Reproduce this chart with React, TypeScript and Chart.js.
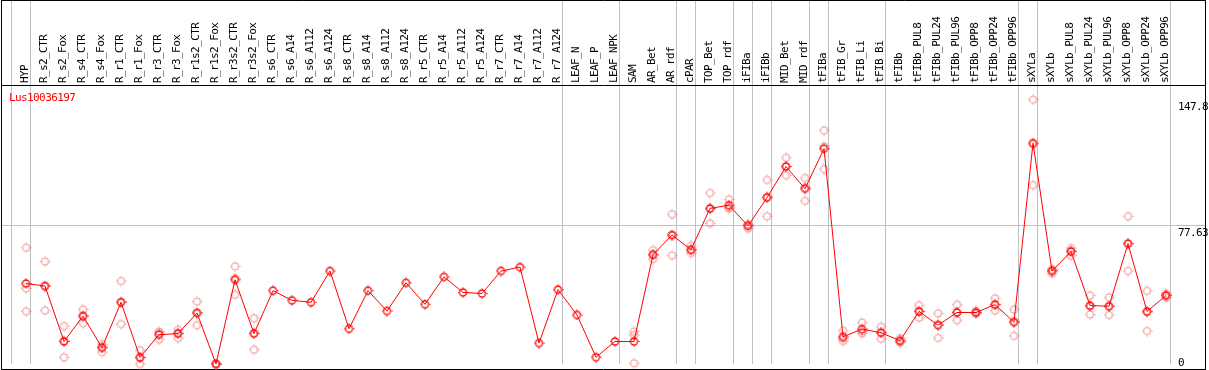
import React, { useEffect, useRef } from 'react';
import { Chart, registerables } from 'chart.js';

Chart.register(...registerables);

const categories = [
  'HYP', 'R_s2_CTR', 'R_s2_Fox', 'R_s4_CTR', 'R_s4_Fox', 'R_r1_CTR', 'R_r1_Fox', 'R_r3_CTR', 'R_r3_Fox',
  'R_r1s2_CTR', 'R_r1s2_Fox', 'R_r3s2_CTR', 'R_r3s2_Fox', 'R_s6_CTR', 'R_s6_A14', 'R_s6_A112', 'R_s6_A124',
  'R_s8_CTR', 'R_s8_A14', 'R_s8_A112', 'R_s8_A124', 'R_r5_CTR', 'R_r5_A14', 'R_r5_A112', 'R_r5_A124',
  'R_r7_CTR', 'R_r7_A14', 'R_r7_A112', 'R_r7_A124', 'LEAF_N', 'LEAF_P', 'LEAF_NPK', 'SAM', 'AR_Bet', 'AR_rdf',
  'cPAR', 'TOP_Bet', 'TOP_rdf', 'iFIBa', 'iFIBb', 'MID_Bet', 'MID_rdf', 'tFIBa', 'tFIB_Gr', 'tFIB_Li', 'tFIB_Bi',
  'tFIBb', 'tFIBb_PUL8', 'tFIBb_PUL24', 'tFIBb_PUL96', 'tFIBb_OPP8', 'tFIBb_OPP24', 'tFIBb_OPP96',
  'sXYLa', 'sXYLb', 'sXYLb_PUL8', 'sXYLb_PUL24', 'sXYLb_PUL96', 'sXYLb_OPP8', 'sXYLb_OPP24', 'sXYLb_OPP96',
];

const meanValues = [
  45.0, 43.6, 12.6, 26.8, 9.1, 34.5, 3.7, 16.4, 17.0,
  28.5, 0, 47.1, 17.0, 41.0, 35.6, 34.5, 52.0,
  19.7, 41.0, 29.6, 45.4, 33.4, 48.7, 40.0, 39.4,
  52.0, 54.2, 11.7, 41.6, 27.4, 3.8, 12.6, 12.6, 61.1, 72.1,
  63.9, 87.0, 88.8, 77.2, 93.0, 110.4, 98.0, 120.4, 15.2, 19.5, 17.5,
  13.0, 29.4, 21.7, 28.8, 28.8, 33.2, 23.4,
  123.5, 52.0, 62.9, 32.7, 32.3, 67.3, 29.4, 38.3,
];

const repHigh = [
  65.0, 57.3, 21.2, 30.5, 11.1, 46.4, 7.7, 18.2, 19.2,
  34.9, 0, 54.6, 25.6, null, null, null, null,
  null, null, null, null, null, null, null, null,
  null, null, null, null, null, null, null, 18.1, 63.7, 83.7,
  66.1, 95.6, 92.0, 77.8, 102.9, 115.3, 104.0, 130.6, 18.6, 23.2, 20.8,
  14.4, 32.8, 28.3, 33.2, 29.8, 36.7, 30.5,
  147.8, 50.7, 64.8, 38.3, 37.2, 82.6, 40.9, 39.2,
];

const repLow = [
  29.4, 29.9, 3.7, 22.8, 6.7, 22.3, 0, 13.7, 14.4,
  21.7, 0, 38.7, 8.0, null, null, null, null,
  null, null, null, null, null, null, null, null,
  null, null, null, null, null, null, null, 0.4, 58.7, 60.6,
  62.0, 78.6, 86.9, 75.7, 82.6, 105.5, 91.2, 108.9, 12.8, 17.1, 14.1,
  12.0, 25.9, 14.6, 24.5, 28.0, 29.9, 15.7,
  100.0, 53.0, 60.6, 27.7, 27.4, 52.0, 18.4, 37.1,
];

const repMid = [
  42.3, 43.6, 12.9, 27.1, 9.5, 34.8, 3.4, 17.3, 17.4,
  28.9, 0, 48.0, 17.4, null, null, null, null,
  null, null, null, null, null, null, null, null,
  null, null, null, null, null, null, null, 16.2, 61.0, 72.0,
  63.6, 86.8, 87.5, 78.0, 93.5, 110.4, 98.8, 121.7, 14.2, 18.2, 17.6,
  12.6, 29.5, 22.2, 28.7, 28.6, 33.0, 24.0,
  122.6, 52.3, 63.3, 32.1, 32.3, 67.3, 28.9, 38.6,
];

const separatorAfter = [-1, 0, 28, 31, 34, 35, 37, 38, 39, 41, 42, 45, 52, 53, 60];
const rightTicks = [0, 77.63, 147.8];
const rightTickLabels = ['0', '77.63', '147.8'];
const geneId = 'Lus10036197';

const MONO = 'DejaVu Sans Mono';
const LETTER_SPACING = '-0.6px';

function makeMarker(color: string, lw: number): HTMLCanvasElement {
  const c = document.createElement('canvas');
  c.width = 11;
  c.height = 11;
  const g = c.getContext('2d')!;
  g.strokeStyle = color;
  g.lineWidth = lw;
  g.beginPath();
  g.arc(5.5, 5.5, 3.5, 0, Math.PI * 2);
  g.stroke();
  g.lineWidth = 1;
  g.beginPath();
  g.moveTo(5.5, 0.3); g.lineTo(5.5, 1.4);
  g.moveTo(5.5, 9.6); g.lineTo(5.5, 10.7);
  g.moveTo(0.3, 5.5); g.lineTo(1.4, 5.5);
  g.moveTo(9.6, 5.5); g.lineTo(10.7, 5.5);
  g.stroke();
  return c;
}

const framePlugin = {
  id: 'frame',
  beforeDraw(chart: any) {
    const ctx = chart.ctx;
    ctx.save();
    ctx.fillStyle = '#ffffff';
    ctx.fillRect(0, 0, chart.width, chart.height);
    ctx.restore();
    try { ctx.letterSpacing = LETTER_SPACING; } catch (e) { /* ignore */ }
  },
  beforeDatasetsDraw(chart: any) {
    const ctx = chart.ctx;
    const xs = chart.scales.x;
    const ys = chart.scales.y;
    const bottom = chart.chartArea.bottom;
    ctx.save();
    ctx.strokeStyle = '#c0c0c0';
    ctx.lineWidth = 1;
    ctx.beginPath();
    separatorAfter.forEach((i) => {
      const px = Math.floor(xs.getPixelForValue(i) + 4.5) + 0.5;
      ctx.moveTo(px, 0);
      ctx.lineTo(px, bottom);
    });
    const gy = Math.round(ys.getPixelForValue(77.63)) + 0.5;
    ctx.moveTo(1, gy);
    ctx.lineTo(1205, gy);
    ctx.stroke();

    ctx.strokeStyle = '#000000';
    ctx.beginPath();
    ctx.moveTo(1, 0.5); ctx.lineTo(1206, 0.5);
    ctx.moveTo(1, 85.5); ctx.lineTo(1206, 85.5);
    ctx.moveTo(1, 369.5); ctx.lineTo(1206, 369.5);
    ctx.moveTo(1.5, 0); ctx.lineTo(1.5, 370);
    ctx.moveTo(1205.5, 0); ctx.lineTo(1205.5, 370);
    ctx.stroke();
    ctx.restore();
  },
  afterDraw(chart: any) {
    const ctx = chart.ctx;
    const ys = chart.scales.y;
    ctx.save();
    try { ctx.letterSpacing = LETTER_SPACING; } catch (e) { /* ignore */ }
    ctx.font = `11px "${MONO}"`;
    ctx.textAlign = 'left';
    ctx.fillStyle = '#ff0000';
    ctx.textBaseline = 'alphabetic';
    ctx.fillText(geneId, 9, 100.5);
    ctx.fillStyle = '#000000';
    ctx.textBaseline = 'top';
    rightTicks.forEach((v, k) => {
      let y = ys.getPixelForValue(v) + 2;
      if (y > 358) y = 358;
      ctx.fillText(rightTickLabels[k], 1178, y);
    });
    ctx.restore();
  },
};

export default function App() {
  const ref = useRef<HTMLCanvasElement | null>(null);

  useEffect(() => {
    if (!ref.current) return;
    const meanMarker = makeMarker('#ff0000', 1.3);
    const repMarker = makeMarker('rgba(238,130,130,0.85)', 1.1);
    const repDataset = (data: (number | null)[], label: string) => ({
      label,
      data,
      showLine: false,
      pointStyle: repMarker,
      pointRadius: 5,
      borderColor: 'rgba(238,130,130,0.85)',
      backgroundColor: 'rgba(0,0,0,0)',
      clip: false,
      spanGaps: false,
    });
    const chart = new Chart(ref.current, {
      type: 'line',
      data: {
        labels: categories,
        datasets: [
          {
            label: 'mean',
            data: meanValues,
            borderColor: '#ff0000',
            borderWidth: 1,
            backgroundColor: 'rgba(0,0,0,0)',
            pointStyle: meanMarker,
            pointRadius: 5,
            tension: 0,
            clip: false,
          } as any,
          repDataset(repHigh, 'rep1') as any,
          repDataset(repMid, 'rep2') as any,
          repDataset(repLow, 'rep3') as any,
        ],
      },
      options: {
        responsive: false,
        animation: false,
        events: [],
        layout: { padding: { left: 26, right: 43, top: 0, bottom: 1 } },
        plugins: { legend: { display: false }, tooltip: { enabled: false } },
        scales: {
          x: {
            position: 'top',
            offset: false,
            grid: { display: false, drawTicks: false },
            border: { display: false },
            ticks: {
              autoSkip: false,
              minRotation: 90,
              maxRotation: 90,
              padding: 2,
              labelOffset: 12,
              color: '#000000',
              font: { family: MONO, size: 11 },
            },
            afterFit: (scale: any) => {
              scale.height = 85;
            },
          },
          y: {
            display: false,
            min: 0,
            max: 156,
          },
        },
      },
      plugins: [framePlugin],
    });
    return () => chart.destroy();
  }, []);

  return (
    <div style={{ position: 'absolute', left: 0, top: 0, width: 1209, height: 370 }}>
      <canvas ref={ref} width={1209} height={370} style={{ display: 'block' }} />
    </div>
  );
}
